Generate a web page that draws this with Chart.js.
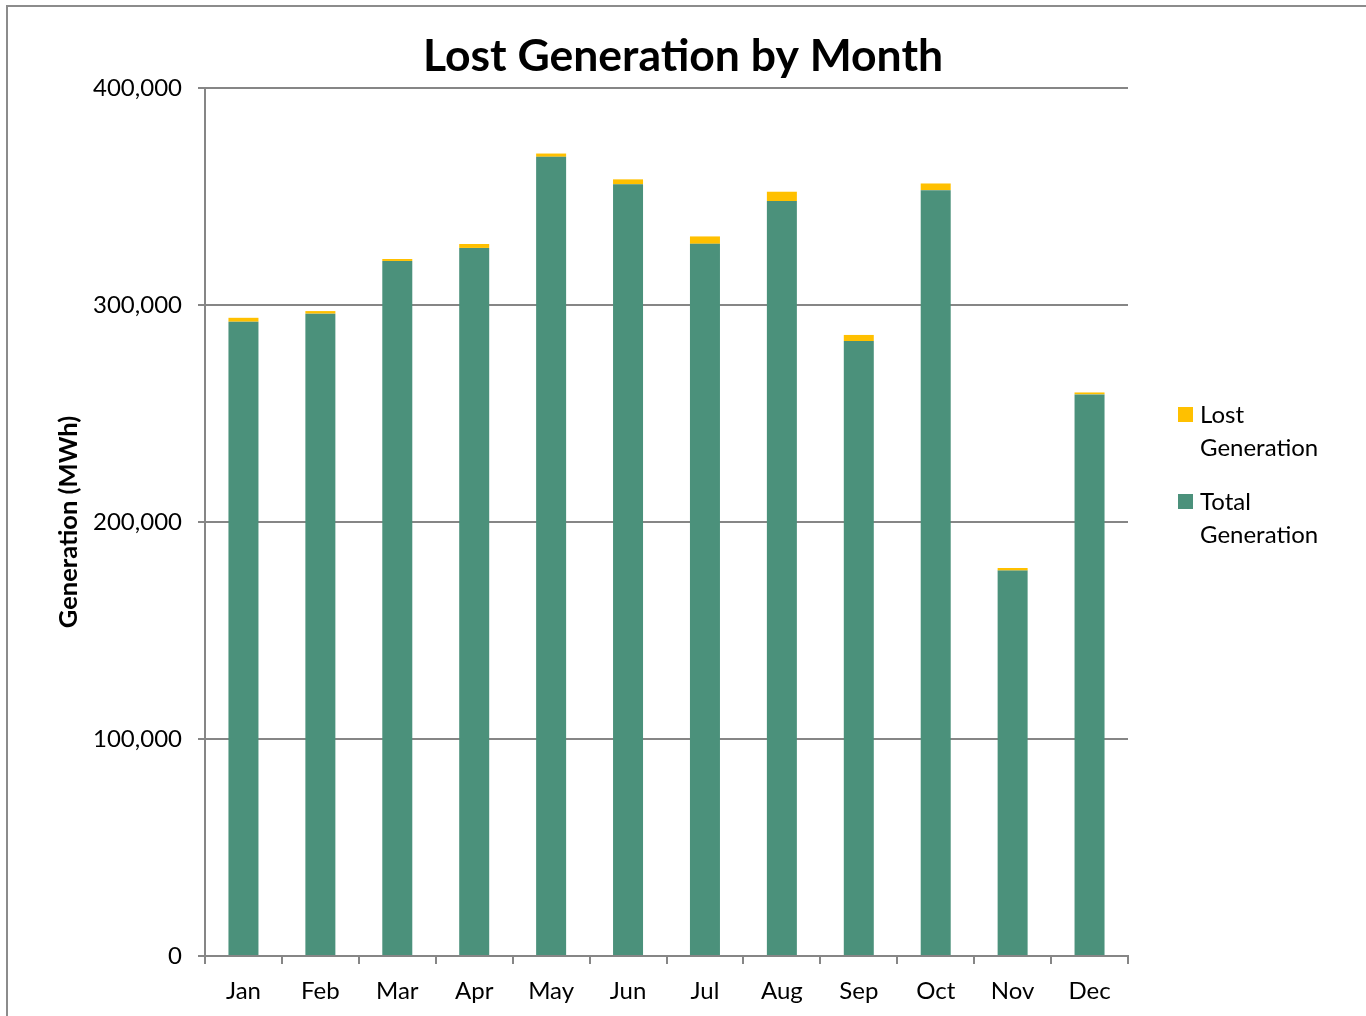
<!DOCTYPE html>
<html>
<head>
<meta charset="utf-8">
<script src="https://cdn.jsdelivr.net/npm/chart.js@4/dist/chart.umd.min.js"></script>
<style>
  html, body { margin: 0; padding: 0; background: #fff; }
  #wrap { position: relative; width: 1366px; height: 1016px; overflow: hidden; }
  #frame { position: absolute; left: 6px; top: 5px; width: 1400px; height: 1100px; border: 2px solid #8c8c8c; box-sizing: border-box; }
  canvas { position: absolute; left: 0; top: 0; }
  .leg { position: absolute; left: 1178px; font-family: Lato, sans-serif; font-size: 24px; color: #000; line-height: 33px; }
  .leg .sw { position: absolute; left: 0; width: 15px; height: 15px; }
  .leg .tx { position: absolute; left: 22px; white-space: nowrap; }
</style>
</head>
<body>
<div id="wrap">
  <div id="frame"></div>
  <canvas id="c" width="1366" height="1016"></canvas>
  <div id="legend"></div>
</div>
<script>
const categories = ["Jan","Feb","Mar","Apr","May","Jun","Jul","Aug","Sep","Oct","Nov","Dec"];
const totalGeneration = [292300, 296000, 320300, 326300, 368300, 355600, 328200, 347900, 283400, 352900, 177600, 258800];
const lostGeneration = [1800, 1200, 900, 1800, 1500, 2300, 3400, 4300, 2800, 3100, 1200, 900];
const seriesNames = ["Total Generation", "Lost Generation"];
const seriesColors = ["#4b917b", "#ffc000"];
const yTicks = [0, 100000, 200000, 300000, 400000];

const grid = "#868686";

new Chart(document.getElementById("c"), {
  type: "bar",
  data: {
    labels: categories,
    datasets: [
      { label: seriesNames[0], data: totalGeneration, backgroundColor: seriesColors[0], barPercentage: 0.39, categoryPercentage: 1.0 },
      { label: seriesNames[1], data: lostGeneration, backgroundColor: seriesColors[1], barPercentage: 0.39, categoryPercentage: 1.0 }
    ]
  },
  options: {
    responsive: false,
    animation: false,
    layout: { padding: 0 },
    plugins: {
      legend: { display: false },
      tooltip: { enabled: false },
      title: {
        display: true,
        text: "Lost Generation by Month",
        color: "#000",
        font: { family: "Lato", size: 44.5, weight: "bold", lineHeight: 1.2 },
        padding: { top: 30, bottom: 4.6 }
      }
    },
    scales: {
      x: {
        stacked: true,
        grid: { display: true, drawOnChartArea: false, drawTicks: true, tickLength: 8, color: grid, lineWidth: 2, offset: true },
        border: { display: true, color: grid, width: 2 },
        ticks: { color: "#000", font: { family: "Lato", size: 24 }, padding: 13, maxRotation: 0 },
        afterFit: s => { s.height = 60; }
      },
      y: {
        stacked: true,
        min: yTicks[0],
        max: yTicks[yTicks.length - 1],
        afterBuildTicks: s => { s.ticks = yTicks.map(v => ({ value: v })); },
        grid: { color: grid, lineWidth: 2, drawTicks: true, tickLength: 7 },
        border: { display: true, color: grid, width: 2 },
        ticks: { color: "#000", font: { family: "Lato", size: 24 }, padding: 16,
                 callback: v => Number(v).toLocaleString("en-US") },
        title: { display: true, text: "Generation (MWh)", color: "#000",
                 font: { family: "Lato", size: 25.5, weight: "bold", lineHeight: 1.2 },
                 padding: { top: 53, bottom: 0 } },
        afterFit: s => { s.width = 205; }
      },
      // empty right-hand spacer axis reserving room for the legend
      spacer: {
        position: "right",
        display: true,
        grid: { display: false, drawTicks: false },
        border: { display: false },
        ticks: { display: false },
        afterFit: s => { s.width = 238; }
      }
    }
  }
});

// HTML legend (Lost listed first, as in the reference)
const legendItems = [
  { name: seriesNames[1], color: seriesColors[1], top: 397 },
  { name: seriesNames[0], color: seriesColors[0], top: 484 }
];
const legendEl = document.getElementById("legend");
legendItems.forEach(it => {
  const d = document.createElement("div");
  d.className = "leg";
  d.style.top = it.top + "px";
  const parts = it.name.split(" ");
  d.innerHTML = '<div class="sw" style="top:10px;background:' + it.color + '"></div>' +
    '<div class="tx">' + parts[0] + '<br>' + parts.slice(1).join(" ") + '</div>';
  legendEl.appendChild(d);
});
</script>
</body>
</html>
